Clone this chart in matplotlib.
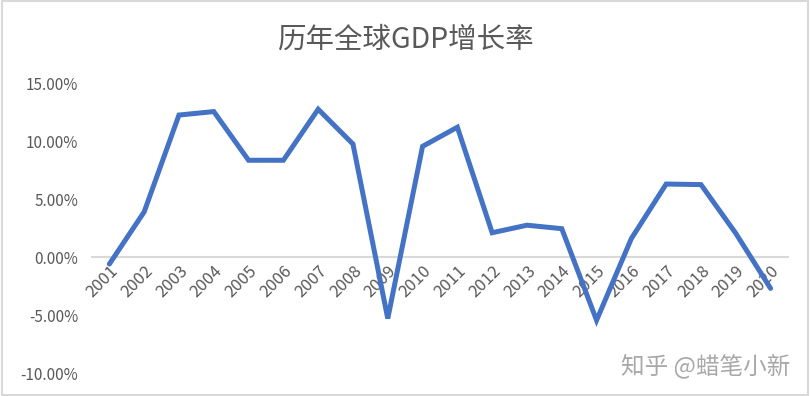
import matplotlib
matplotlib.use('Agg')
import matplotlib.pyplot as plt
from matplotlib.patches import Rectangle
from matplotlib.ticker import FuncFormatter

plt.rcParams['font.family'] = ['Noto Sans CJK SC', 'DejaVu Sans']

# 数据：历年全球GDP增长率 (%)
years = [str(y) for y in range(2001, 2021)]
growth = [-0.6, 3.9, 12.25, 12.55, 8.35, 8.35, 12.75, 9.75, -5.3, 9.55,
          11.2, 2.1, 2.75, 2.45, -5.45, 1.6, 6.3, 6.25, 2.05, -2.7]

fig = plt.figure(figsize=(8.11, 3.96), dpi=100)
ax = fig.add_axes([0.1134, 0.058, 0.8582, 0.732])

x = list(range(len(years)))
ax.plot(x, growth, color='#4472C4', linewidth=3.6, solid_capstyle='round',
        solid_joinstyle='miter', zorder=3)

ax.set_xlim(-0.5, len(years) - 0.5)
ax.set_ylim(-10, 15)
ax.set_yticks([-10, -5, 0, 5, 10, 15])
ax.yaxis.set_major_formatter(FuncFormatter(lambda v, p: f'{v:.2f}%'))

# 横轴放在0的位置（Excel 风格）
for s in ['top', 'right', 'left']:
    ax.spines[s].set_visible(False)
ax.spines['bottom'].set_position(('data', 0))
ax.spines['bottom'].set_color('#d9d9d9')
ax.spines['bottom'].set_linewidth(1.5)
ax.spines['bottom'].set_zorder(1)

ax.set_xticks(x)
ax.set_xticklabels(years, rotation=45, ha='right', rotation_mode='anchor')
ax.tick_params(axis='x', length=0, pad=4, labelsize=12, labelcolor='#595959')
ax.tick_params(axis='y', length=0, pad=10, labelsize=11, labelcolor='#595959')

fig.text(0.5, 0.9, '历年全球GDP增长率', ha='center', va='center',
         fontsize=20.5, color='#595959')

# 水印
fig.text(0.974, 0.077, '知乎 @蜡笔小新', ha='right', va='center',
         fontsize=17, color='#a8a8a8')

# 图表外框
fig.patches.append(Rectangle((0.002, 0.003), 0.994, 0.994, transform=fig.transFigure,
                             fill=False, edgecolor='#d9d9d9', linewidth=1.5))

fig.savefig('out.png', dpi=100)
